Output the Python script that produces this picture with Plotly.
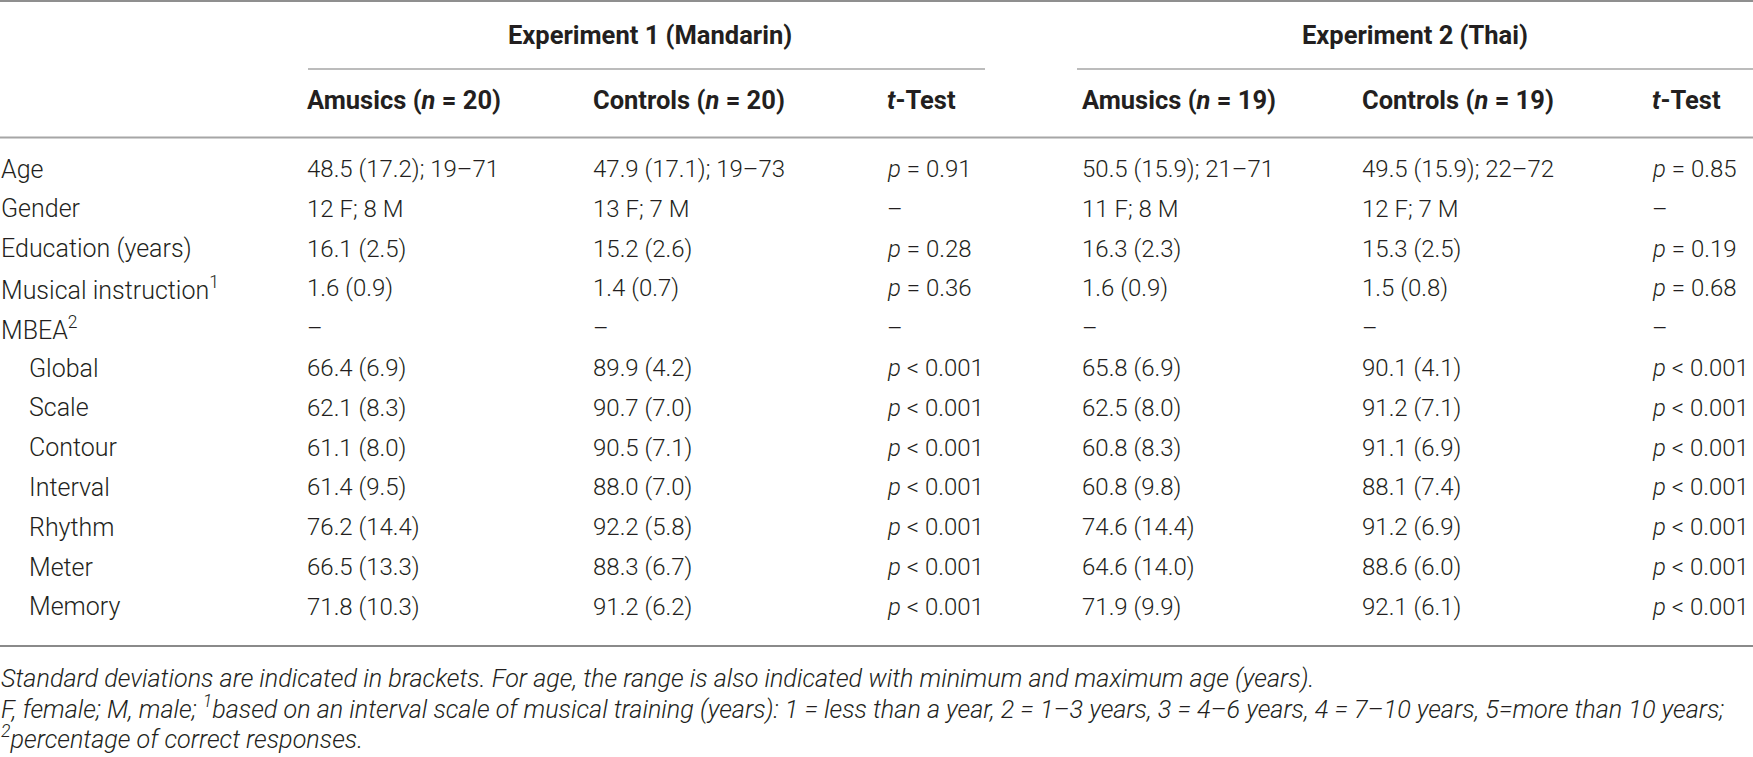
import plotly.graph_objects as go

W, H = 1753, 757

# ---------------- data ----------------
group_titles = ["Experiment 1 (Mandarin)", "Experiment 2 (Thai)"]
col_headers = ["Amusics (<i>n</i> = 20)", "Controls (<i>n</i> = 20)", "<i>t</i>-Test",
               "Amusics (<i>n</i> = 19)", "Controls (<i>n</i> = 19)", "<i>t</i>-Test"]
row_labels = ["Age", "Gender", "Education (years)", "Musical instruction<sup>1</sup>",
              "MBEA<sup>2</sup>", "Global", "Scale", "Contour", "Interval", "Rhythm",
              "Meter", "Memory"]
row_indented = [False, False, False, False, False, True, True, True, True, True, True, True]

amusics_1 = ["48.5 (17.2); 19–71", "12 F; 8 M", "16.1 (2.5)", "1.6 (0.9)", "–",
             "66.4 (6.9)", "62.1 (8.3)", "61.1 (8.0)", "61.4 (9.5)", "76.2 (14.4)",
             "66.5 (13.3)", "71.8 (10.3)"]
controls_1 = ["47.9 (17.1); 19–73", "13 F; 7 M", "15.2 (2.6)", "1.4 (0.7)", "–",
              "89.9 (4.2)", "90.7 (7.0)", "90.5 (7.1)", "88.0 (7.0)", "92.2 (5.8)",
              "88.3 (6.7)", "91.2 (6.2)"]
ttest_1 = ["<i>p</i> = 0.91", "–", "<i>p</i> = 0.28", "<i>p</i> = 0.36", "–",
           "<i>p</i> < 0.001", "<i>p</i> < 0.001", "<i>p</i> < 0.001", "<i>p</i> < 0.001",
           "<i>p</i> < 0.001", "<i>p</i> < 0.001", "<i>p</i> < 0.001"]
amusics_2 = ["50.5 (15.9); 21–71", "11 F; 8 M", "16.3 (2.3)", "1.6 (0.9)", "–",
             "65.8 (6.9)", "62.5 (8.0)", "60.8 (8.3)", "60.8 (9.8)", "74.6 (14.4)",
             "64.6 (14.0)", "71.9 (9.9)"]
controls_2 = ["49.5 (15.9); 22–72", "12 F; 7 M", "15.3 (2.5)", "1.5 (0.8)", "–",
              "90.1 (4.1)", "91.2 (7.1)", "91.1 (6.9)", "88.1 (7.4)", "91.2 (6.9)",
              "88.6 (6.0)", "92.1 (6.1)"]
ttest_2 = ["<i>p</i> = 0.85", "–", "<i>p</i> = 0.19", "<i>p</i> = 0.68", "–",
           "<i>p</i> < 0.001", "<i>p</i> < 0.001", "<i>p</i> < 0.001", "<i>p</i> < 0.001",
           "<i>p</i> < 0.001", "<i>p</i> < 0.001", "<i>p</i> < 0.001"]
footnotes = [
    "Standard deviations are indicated in brackets. For age, the range is also indicated with minimum and maximum age (years).",
    "F, female; M, male; <sup>1</sup>based on an interval scale of musical training (years): 1 = less than a year, 2 = 1–3 years, 3 = 4–6 years, 4 = 7–10 years, 5=more than 10 years;",
    "<sup>2</sup>percentage of correct responses.",
]

# ---------------- layout constants ----------------
FONT = "Roboto"
TXT = "#231f20"
col_x = [306, 592, 886, 1081, 1361, 1651]
group_cx = [650, 1415]
group_line = [(308, 985), (1077, W)]
label_x, indent_x = 0, 28
y_group, y_group_line, y_head, y_head_line = 35, 69, 100, 137.5
y_row0, row_step = 169, 39.8
y_bottom = 646
y_fn0, fn_step = 678, 29.5

columns = [amusics_1, controls_1, ttest_1, amusics_2, controls_2, ttest_2]

fig = go.Figure()
ann = []

def add(x, y, text, size, weight=300, xanchor="left", family=FONT):
    ann.append(dict(x=x, y=y, xref="x", yref="y", text=text, showarrow=False,
                    xanchor=xanchor, yanchor="middle", borderpad=0,
                    font=dict(family=family, size=size, color=TXT, weight=weight)))

for gx, gt in zip(group_cx, group_titles):
    add(gx, y_group, "<b>" + gt + "</b>", 25.5, weight=700, xanchor="center")
for cx, ht in zip(col_x, col_headers):
    add(cx, y_head, "<b>" + ht + "</b>", 25.5, weight=700)
for i, (lab, ind) in enumerate(zip(row_labels, row_indented)):
    y = y_row0 + i * row_step
    add(indent_x if ind else label_x, y, lab, 25)
    for cx, col in zip(col_x, columns):
        add(cx, y, col[i], 24)
for j, fn in enumerate(footnotes):
    add(label_x, y_fn0 + j * fn_step, "<i>" + fn + "</i>", 25.2)

shapes = []
def hline(x0, x1, y, color, width):
    shapes.append(dict(type="line", xref="x", yref="y", x0=x0, x1=x1, y0=y, y1=y,
                       line=dict(color=color, width=width)))

hline(0, W, 1, "#8f8f8f", 2)
for a, b in group_line:
    hline(a, b, y_group_line, "#a6a6a6", 1.5)
hline(0, W, y_head_line, "#a6a6a6", 2)
hline(0, W, y_bottom, "#8a8a8a", 2)

fig.update_layout(
    width=W, height=H, margin=dict(l=0, r=0, t=0, b=0),
    paper_bgcolor="white", plot_bgcolor="white",
    xaxis=dict(range=[0, W], visible=False, fixedrange=True),
    yaxis=dict(range=[H, 0], visible=False, fixedrange=True),
    annotations=ann, shapes=shapes, showlegend=False,
)
fig.write_html(
    "out.html",
    config={"displayModeBar": False},
    post_script="document.body.style.margin='0';document.body.style.overflow='hidden';",
)
